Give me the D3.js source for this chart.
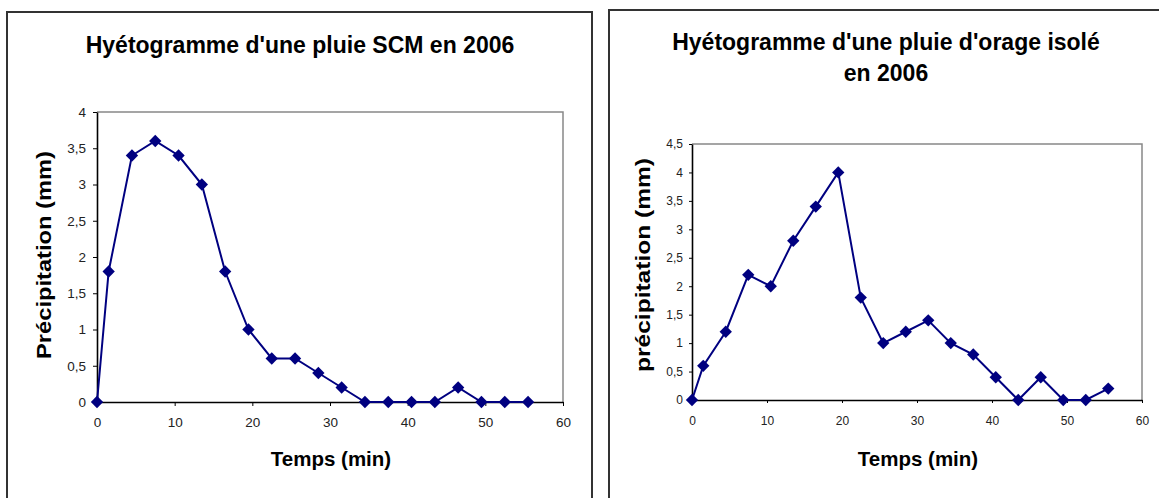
<!DOCTYPE html>
<html>
<head>
  <meta charset="utf-8">
  <script src="https://d3js.org/d3.v7.min.js"></script>
  <style>
    body { margin: 0; background: #fff; }
    svg { display: block; font-family: "Liberation Sans", Arial, sans-serif; }
  </style>
</head>
<body>
  <div id="chart"></div>

  <script>
    // time steps (min), same for both storms
    const temps = [0, 1.5, 4.5, 7.5, 10.5, 13.5, 16.5, 19.5, 22.5, 25.5, 28.5, 31.5, 34.5, 37.5, 40.5, 43.5, 46.5, 49.5, 52.5, 55.5];

    // precipitation (mm)
    const pluieSCM = [0, 1.8, 3.4, 3.6, 3.4, 3.0, 1.8, 1.0, 0.6, 0.6, 0.4, 0.2, 0, 0, 0, 0, 0.2, 0, 0, 0];
    const pluieOrage = [0, 0.6, 1.2, 2.2, 2.0, 2.8, 3.4, 4.0, 1.8, 1.0, 1.2, 1.4, 1.0, 0.8, 0.4, 0, 0.4, 0, 0, 0.2];

    const xTicks = [0, 10, 20, 30, 40, 50, 60];
    const yTicksSCM = [0, 0.5, 1, 1.5, 2, 2.5, 3, 3.5, 4];
    const yTicksOrage = [0, 0.5, 1, 1.5, 2, 2.5, 3, 3.5, 4, 4.5];

    const navy = "#000080";
    const fmt = d => String(d).replace(".", ",");

    const svg = d3.select("#chart")
      .append("svg")
      .attr("width", 1159)
      .attr("height", 498);

    function drawChart(c) {
      const g = svg.append("g");

      // outer frame
      g.append("rect")
        .attr("x", c.box[0]).attr("y", c.box[1])
        .attr("width", c.box[2]).attr("height", c.box[3])
        .attr("fill", "#fff")
        .attr("stroke", "#333")
        .attr("stroke-width", 2);

      const x = d3.scaleLinear().domain([0, 60]).range([c.plot.left, c.plot.right]);
      const y = d3.scaleLinear().domain([0, d3.max(c.yTicks)]).range([c.plot.bottom, c.plot.top]);

      // plot area border (top and right in grey)
      g.append("path")
        .attr("d", `M${c.plot.left},${c.plot.top}H${c.plot.right}V${c.plot.bottom}`)
        .attr("fill", "none")
        .attr("stroke", "#888")
        .attr("stroke-width", 1.5);

      const yAxis = g.append("g")
        .attr("transform", `translate(${c.plot.left},0)`)
        .call(d3.axisLeft(y).tickValues(c.yTicks).tickFormat(fmt)
          .tickSize(c.tickSize).tickPadding(c.yPad).tickSizeOuter(0));

      const xAxis = g.append("g")
        .attr("transform", `translate(0,${c.plot.bottom})`)
        .call(d3.axisBottom(x).tickValues(xTicks).tickFormat(fmt)
          .tickSize(c.tickSize).tickPadding(c.xPad).tickSizeOuter(0));

      [xAxis, yAxis].forEach(a => {
        a.attr("font-size", null).attr("font-family", null);
        a.select(".domain").attr("stroke", "#000").attr("stroke-width", 1.6);
        a.selectAll(".tick line").attr("stroke", "#000");
        a.selectAll(".tick text")
          .style("font-family", "'Liberation Sans', Arial, sans-serif")
          .style("font-size", c.tickFont + "px")
          .attr("fill", "#222");
      });

      const pts = temps.map((t, i) => [t, c.values[i]]);

      g.append("path")
        .datum(pts)
        .attr("fill", "none")
        .attr("stroke", navy)
        .attr("stroke-width", 2)
        .attr("d", d3.line().x(d => x(d[0])).y(d => y(d[1])));

      g.selectAll(".pt")
        .data(pts)
        .enter()
        .append("path")
        .attr("class", "pt")
        .attr("d", d3.symbol().type(d3.symbolSquare).size(76))
        .attr("transform", d => `translate(${x(d[0])},${y(d[1])}) rotate(45)`)
        .attr("fill", navy);

      // titles
      c.title.forEach((line, i) => {
        g.append("text")
          .attr("x", c.titleX)
          .attr("y", c.titleY + i * 31)
          .attr("text-anchor", "middle")
          .attr("font-size", 23)
          .attr("font-weight", "bold")
          .text(line);
      });

      g.append("text")
        .attr("x", c.xTitle[0])
        .attr("y", c.xTitle[1])
        .attr("text-anchor", "middle")
        .attr("font-size", 20.5)
        .attr("font-weight", "bold")
        .text("Temps (min)");

      g.append("text")
        .attr("transform", `translate(${c.yTitle[0]},${c.yTitle[1]}) rotate(-90)`)
        .attr("text-anchor", "middle")
        .attr("font-size", 21)
        .attr("font-weight", "bold")
        .attr("textLength", c.yTitle[2])
        .attr("lengthAdjust", "spacingAndGlyphs")
        .text(c.yLabel);
    }

    drawChart({
      box: [7, 12, 585, 500],
      plot: { left: 97, right: 563, top: 112, bottom: 402 },
      values: pluieSCM,
      yTicks: yTicksSCM,
      tickSize: 4, yPad: 7, xPad: 11, tickFont: 13.5,
      title: ["Hyétogramme d'une pluie SCM en 2006"],
      titleX: 300, titleY: 53,
      xTitle: [331, 466],
      yTitle: [51, 255, 208],
      yLabel: "Précipitation (mm)"
    });

    drawChart({
      box: [609, 10, 570, 500],
      plot: { left: 692, right: 1142, top: 144, bottom: 400 },
      values: pluieOrage,
      yTicks: yTicksOrage,
      tickSize: 3, yPad: 6, xPad: 13, tickFont: 12,
      title: ["Hyétogramme d'une pluie d'orage isolé", "en 2006"],
      titleX: 886, titleY: 50,
      xTitle: [918, 466],
      yTitle: [650, 265, 214],
      yLabel: "précipitation (mm)"
    });
  </script>
</body>
</html>
